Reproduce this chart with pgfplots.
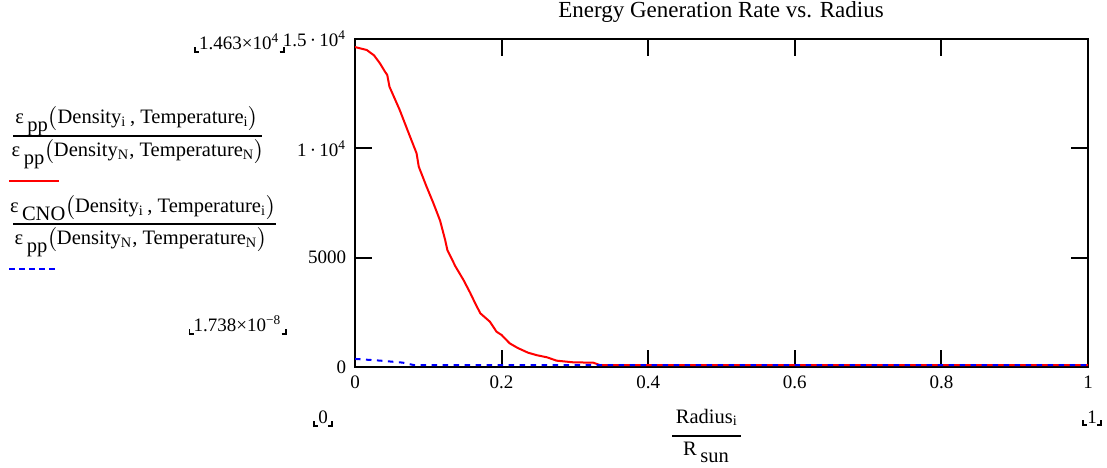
\documentclass[border=0pt]{standalone}
\usepackage{amsmath}
\usepackage{fontspec}
\setmainfont{Liberation Serif}
\usepackage{pgfplots}
\pgfplotsset{compat=1.18}

% Mathcad style limit marks
\newcommand\lmk{\rlap{\rule[-1.2pt]{0.7pt}{2.4pt}}\rule[-1.2pt]{2pt}{0.7pt}}
\newcommand\rmk{\rule[-1.2pt]{2pt}{0.7pt}\llap{\rule[-1.2pt]{0.7pt}{2.4pt}}}
\newcommand\eps[1]{ε\,\raisebox{-0.38em}{#1}}
\newcommand\lbl{\fontsize{8.2}{10}\selectfont}
\newcommand\tks{\fontsize{7.6}{9}\selectfont}

\begin{document}
\begin{tikzpicture}[x=0.4pt,y=0.4pt]
\useasboundingbox (0,0) rectangle (1107,467);

\begin{axis}[
  at={(142pt,40pt)}, anchor=south west,
  scale only axis, width=293.2pt, height=131.2pt,
  xmin=0, xmax=1, ymin=0, ymax=15000,
  xtick={0,0.2,0.4,0.6,0.8,1},
  xticklabels={0,0.2,0.4,0.6,0.8,1},
  ytick={0,5000,10000,15000},
  yticklabels={0,5000,{1\,·\,10\textsuperscript{4}},{1.5\,·\,10\textsuperscript{4}}},
  scaled ticks=false,
  tick align=inside, major tick length=6.8pt,
  tick pos=both,
  axis line style={line width=0.8pt},
  every tick/.style={black, line width=0.8pt},
  tick label style={font=\tks},
  /pgf/number format/assume math mode=true,
]
\addplot[red, line width=0.8pt] coordinates {
  (0,14630)(0.016,14497)(0.026,14250)(0.034,13887)(0.041,13500)(0.044,13354)(0.047,12820)
  (0.061,11753)(0.072,10800)(0.084,9772)(0.087,9160)(0.097,8300)(0.107,7486)(0.116,6700)(0.123,5808)
  (0.126,5350)(0.137,4600)(0.148,3979)(0.157,3400)(0.164,2911)(0.171,2454)(0.184,2073)
  (0.193,1616)(0.200,1463)(0.211,1082)(0.222,870)(0.236,655)(0.248,540)(0.262,442)
  (0.275,290)(0.298,213)(0.325,198)(0.334,90)(1,90)
};
\addplot[blue, line width=0.8pt, dash pattern=on 2.2pt off 2.2pt] coordinates {
  (0,370)(0.035,290)(0.065,200)(0.08,90)(1,90)
};
\end{axis}

% title
\node[anchor=base, font=\fontsize{9.2}{11}\selectfont] at (721,449) {Energy Generation Rate vs. Radius};

% y label: two fractions with line samples
\node[anchor=base, font=\lbl, inner sep=0pt] at (137,343)
  {\eps{pp}$\bigl($Density\textsubscript{i}\,, Temperature\textsubscript{i}$\bigr)$};
\draw[line width=0.8pt] (13,331) -- (262,331);
\node[anchor=base, font=\lbl, inner sep=0pt] at (138,310)
  {\eps{pp}$\bigl($Density\textsubscript{N}, Temperature\textsubscript{N}$\bigr)$};
\draw[red, line width=0.8pt] (9,286) -- (59,286);

\node[anchor=base, font=\lbl, inner sep=0pt] at (143,254)
  {\eps{CNO}$\bigl($Density\textsubscript{i}\,, Temperature\textsubscript{i}$\bigr)$};
\draw[line width=0.8pt] (13,243) -- (276,243);
\node[anchor=base, font=\lbl, inner sep=0pt] at (141,222)
  {\eps{pp}$\bigl($Density\textsubscript{N}, Temperature\textsubscript{N}$\bigr)$};
\draw[blue, line width=0.8pt, dash pattern=on 2.2pt off 1.8pt] (9,198) -- (58,198);

% y limits
\node[anchor=base east, font=\tks, inner sep=0pt] at (285,417)
  {\lmk1.463×10\textsuperscript{4}\rmk};
\node[anchor=base east, font=\tks, inner sep=0pt] at (287,135)
  {\lmk1.738×10\textsuperscript{−8}\rmk};

% x limits and x label
\node[anchor=base, font=\tks, inner sep=0pt] at (323,43) {\lmk0\rmk};
\node[anchor=base, font=\tks, inner sep=0pt] at (1092,44) {\lmk1\rmk};
\node[anchor=base, font=\lbl, inner sep=0pt] at (707,44) {Radius\textsubscript{i}};
\draw[line width=0.8pt] (672,31) -- (741,31);
\node[anchor=base, font=\lbl, inner sep=0pt] at (706,12) {R\,\raisebox{-0.35em}{sun}};
\end{tikzpicture}
\end{document}
